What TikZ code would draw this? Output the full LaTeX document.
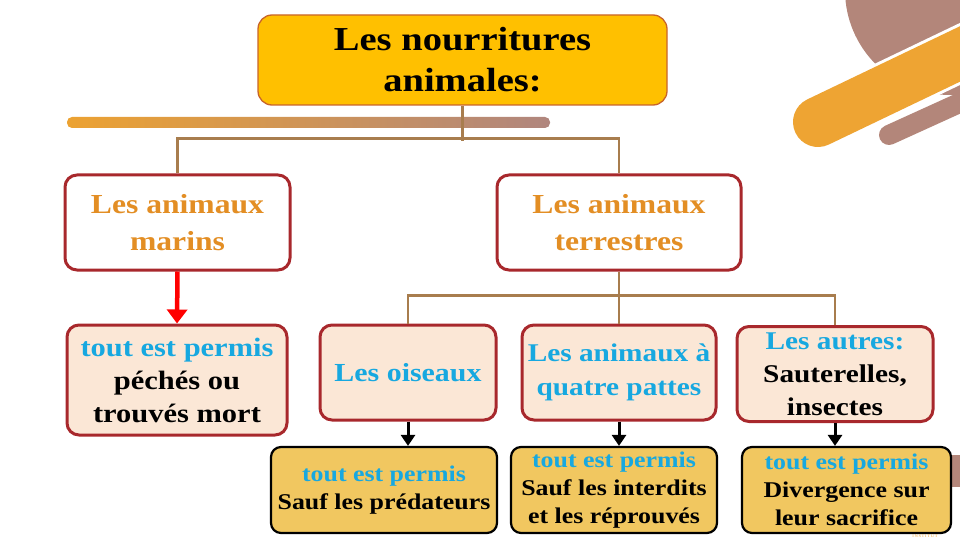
\documentclass[tikz,border=0pt]{standalone}
\usepackage{fontspec}
\setmainfont{Liberation Serif}[FakeStretch=1.15]
\usetikzlibrary{arrows.meta}
\definecolor{titlefill}{HTML}{FFC000}
\definecolor{titleborder}{HTML}{C8642A}
\definecolor{boxborder}{HTML}{A8282C}
\definecolor{orangetext}{HTML}{E38E24}
\definecolor{cyantext}{HTML}{17A8E0}
\definecolor{peach}{HTML}{FBE7D6}
\definecolor{gold}{HTML}{F1C760}
\definecolor{connbrown}{HTML}{A87D4E}
\definecolor{decobrown}{HTML}{B3867A}
\definecolor{decoorange}{HTML}{EEA433}
\definecolor{barleft}{HTML}{ECA232}
\definecolor{barright}{HTML}{B0867E}
\tikzset{
  titlebox/.style={draw=titleborder, line width=1.3pt, fill=titlefill, rounded corners=14pt,
    align=center, inner sep=0pt, font=\bfseries\fontsize{33.5}{41}\selectfont},
  catbox/.style={draw=boxborder, line width=3pt, fill=white, rounded corners=12pt,
    align=center, inner sep=0pt, text=orangetext, font=\bfseries\fontsize{27.5}{37}\selectfont},
  subbox/.style={draw=boxborder, line width=3pt, fill=peach, rounded corners=12pt,
    align=center, inner sep=0pt, font=\bfseries\fontsize{26}{33}\selectfont},
  rulebox/.style={draw=black, line width=2.2pt, fill=gold, rounded corners=10pt,
    align=center, inner sep=0pt, font=\bfseries\fontsize{22.5}{28}\selectfont},
  conn/.style={draw=connbrown, line width=2.6pt},
  redarrow/.style={draw=red, line width=4.5pt, -{Triangle[width=20pt,length=14pt]}},
  blackarrow/.style={draw=black, line width=3pt, -{Triangle[width=14pt,length=11pt]}},
}
\begin{document}
\begin{tikzpicture}[x=1pt,y=-1pt]
\useasboundingbox (0,0) rectangle (960,540);
% decorations
\begin{scope}
\clip (0,0) rectangle (960,540);
\fill[decobrown] (950,-10) circle (105);
\draw[white, line width=56pt, line cap=round] (818,122) -- (1010,30);
\draw[decoorange, line width=50pt, line cap=round] (818,122) -- (1010,30);
\draw[decobrown, line width=20pt, line cap=round] (889,135) -- (1010,80);
\fill[decobrown] (948,455) rectangle (960,487);
\end{scope}
\shade[left color=barleft, right color=barright, rounded corners=5pt] (67,117) rectangle (550,128);
% nodes
\node[titlebox, minimum width=409pt, minimum height=90pt] (title) at (462.5,60) {Les nourritures\\animales:};
\node[catbox, minimum width=225pt, minimum height=95pt] (marins) at (177.5,222.5) {Les animaux\\marins};
\node[catbox, minimum width=244pt, minimum height=95pt] (terr) at (619,222.5) {Les animaux\\terrestres};
\node[subbox, minimum width=220pt, minimum height=110pt, font=\bfseries\fontsize{26.5}{33}\selectfont] (leaf) at (177,380) {{\color{cyantext}tout est permis}\\péchés ou\\trouvés mort};
\node[subbox, minimum width=176pt, minimum height=95pt, text=cyantext] (oiseaux) at (408,372.5) {Les oiseaux};
\node[subbox, minimum width=194pt, minimum height=95pt, text=cyantext, font=\bfseries\fontsize{25.5}{34}\selectfont] (quatre) at (619,372.5) {Les animaux à\\quatre pattes};
\node[subbox, minimum width=196pt, minimum height=95pt, font=\bfseries\fontsize{25.5}{33}\selectfont] (autres) at (835,374) {{\color{cyantext}Les autres:}\\Sauterelles,\\insectes};
\node[rulebox, minimum width=226pt, minimum height=86pt] (r1) at (384,490) {{\color{cyantext}tout est permis}\\Sauf les prédateurs};
\node[rulebox, minimum width=206pt, minimum height=86pt] (r2) at (614,490) {{\color{cyantext}tout est permis}\\Sauf les interdits\\et les réprouvés};
\node[rulebox, minimum width=209pt, minimum height=86pt] (r3) at (846.5,490) {{\color{cyantext}tout est permis}\\Divergence sur\\leur sacrifice};
\node[text=decoorange, font=\fontsize{4}{4}\selectfont, inner sep=0pt] (inst) at (925,536) {I\,N\,S\,T\,I\,T\,U\,T};
% connectors
\draw[conn] (title.south) -- ++(0,35);
\draw[conn] (marins.north) -- ++(0,-35) -| (terr.north);
\draw[conn] (terr.south) -- (quatre.north);
\draw[conn] (oiseaux.north) -- ++(0,-28) -| (autres.north);
\draw[redarrow] (marins.south) -- (leaf.north);
\draw[blackarrow] (oiseaux.south) -- (oiseaux.south |- r1.north);
\draw[blackarrow] (quatre.south) -- (quatre.south |- r2.north);
\draw[blackarrow] (autres.south) -- (autres.south |- r3.north);
\end{tikzpicture}
\end{document}
